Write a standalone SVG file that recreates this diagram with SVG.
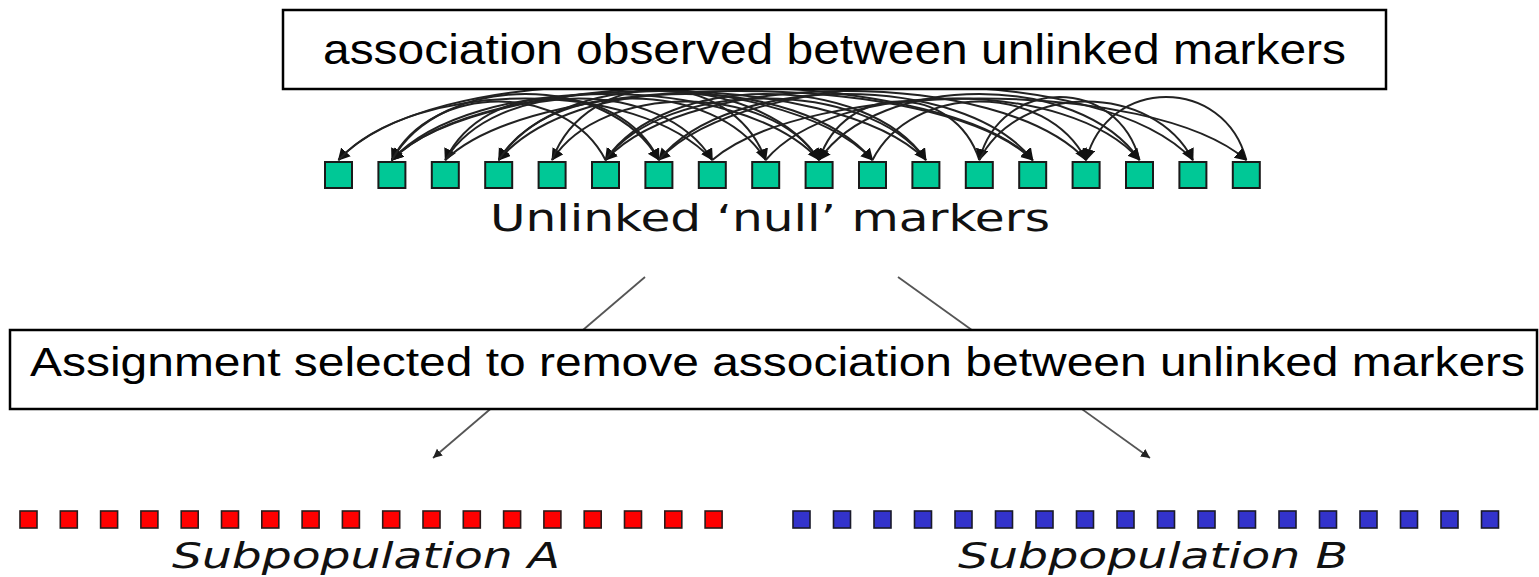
<svg xmlns="http://www.w3.org/2000/svg" width="1539" height="577" viewBox="0 0 1539 577">
  <style>
    .arc { fill: none; stroke: #222; stroke-width: 2; }
    .split { fill: none; stroke: #555; stroke-width: 1.8; }
    .box { fill: #fff; stroke: #000; stroke-width: 2.5; }
    .boxtext { font-family: "Liberation Sans", Arial, sans-serif; fill: #000; }
    .label { font-family: "DejaVu Sans", Verdana, sans-serif; fill: #111; }
    .g { fill: #00c896; stroke: #1a1a1a; stroke-width: 2; }
    .r { fill: #ff0000; stroke: #2a1a1a; stroke-width: 1.6; }
    .b { fill: #3333cc; stroke: #1a1a2a; stroke-width: 1.6; }
  </style>
  <defs>
    <marker id="head" markerUnits="userSpaceOnUse" markerWidth="14" markerHeight="14" refX="11" refY="6.5" orient="auto">
      <path d="M0,0 L12,6.5 L0,13 z" fill="#111"/>
    </marker>
    <marker id="headSmall" markerUnits="userSpaceOnUse" markerWidth="10" markerHeight="10" refX="9" refY="4.5" orient="auto">
      <path d="M0,0 L9,4.5 L0,9 z" fill="#222"/>
    </marker>
  </defs>

  <rect width="1539" height="577" fill="#fff"/>

  <!-- connectors: association arcs between markers, and the split arrows -->
  <g id="connectors">
    <g id="association-arcs" marker-end="url(#head)">
      <path class="arc" d="M712.3,160 C637.3,78 413.5,78 338.5,160"/>
      <path class="arc" d="M605.5,160 C565.5,82 431.9,82 391.9,160"/>
      <path class="arc" d="M819.1,160 C739.1,72 471.9,72 391.9,160"/>
      <path class="arc" d="M925.9,160 C835.9,68 481.9,68 391.9,160"/>
      <path class="arc" d="M1032.7,160 C937.7,62 486.9,62 391.9,160"/>
      <path class="arc" d="M658.9,160 C618.9,78 485.3,78 445.3,160"/>
      <path class="arc" d="M765.7,160 C715.7,78 548.7,78 498.7,160"/>
      <path class="arc" d="M872.5,160 C797.5,72 573.7,72 498.7,160"/>
      <path class="arc" d="M819.1,160 C769.1,82 602.1,82 552.1,160"/>
      <path class="arc" d="M925.9,160 C865.9,78 665.5,78 605.5,160"/>
      <path class="arc" d="M1086.1,160 C1001.1,68 690.5,68 605.5,160"/>
      <path class="arc" d="M391.9,160 C441.9,72 608.9,72 658.9,160"/>
      <path class="arc" d="M1192.9,160 C1102.9,62 748.9,62 658.9,160"/>
      <path class="arc" d="M445.3,160 C495.3,78 662.3,78 712.3,160"/>
      <path class="arc" d="M552.1,160 C587.1,66 730.7,66 765.7,160"/>
      <path class="arc" d="M979.3,160 C954.3,82 844.1,82 819.1,160"/>
      <path class="arc" d="M1139.5,160 C1079.5,72 879.1,72 819.1,160"/>
      <path class="arc" d="M498.7,160 C558.7,68 759.1,68 819.1,160"/>
      <path class="arc" d="M338.5,160 C428.5,62 782.5,62 872.5,160"/>
      <path class="arc" d="M605.5,160 C665.5,72 865.9,72 925.9,160"/>
      <path class="arc" d="M1139.5,160 C1117.5,76 1001.3,76 979.3,160"/>
      <path class="arc" d="M658.9,160 C728.9,72 962.7,72 1032.7,160"/>
      <path class="arc" d="M445.3,160 C540.3,68 937.7,68 1032.7,160"/>
      <path class="arc" d="M1246.3,160 C1224.3,76 1108.1,76 1086.1,160"/>
      <path class="arc" d="M872.5,160 C912.5,82 1046.1,82 1086.1,160"/>
      <path class="arc" d="M765.7,160 C835.7,78 1069.5,78 1139.5,160"/>
      <path class="arc" d="M979.3,160 C1019.3,82 1152.9,82 1192.9,160"/>
      <path class="arc" d="M712.3,160 C807.3,78 1151.3,78 1246.3,160"/>
    </g>
    <g id="split-arrows">
      <path class="split" d="M645,277 L433,458" marker-end="url(#headSmall)"/>
      <path class="split" d="M898,277 L1150,458" marker-end="url(#headSmall)"/>
    </g>
  </g>

  <g id="observed-box">
    <rect class="box" x="283" y="10" width="1103" height="79"/>
    <text class="boxtext" x="323" y="64" font-size="42" textLength="1023" lengthAdjust="spacingAndGlyphs">association observed between unlinked markers</text>
  </g>

  <g id="null-markers">
    <rect class="g" x="325" y="162" width="27" height="26"/>
    <rect class="g" x="378.4" y="162" width="27" height="26"/>
    <rect class="g" x="431.8" y="162" width="27" height="26"/>
    <rect class="g" x="485.2" y="162" width="27" height="26"/>
    <rect class="g" x="538.6" y="162" width="27" height="26"/>
    <rect class="g" x="592" y="162" width="27" height="26"/>
    <rect class="g" x="645.4" y="162" width="27" height="26"/>
    <rect class="g" x="698.8" y="162" width="27" height="26"/>
    <rect class="g" x="752.2" y="162" width="27" height="26"/>
    <rect class="g" x="805.6" y="162" width="27" height="26"/>
    <rect class="g" x="859" y="162" width="27" height="26"/>
    <rect class="g" x="912.4" y="162" width="27" height="26"/>
    <rect class="g" x="965.8" y="162" width="27" height="26"/>
    <rect class="g" x="1019.2" y="162" width="27" height="26"/>
    <rect class="g" x="1072.6" y="162" width="27" height="26"/>
    <rect class="g" x="1126" y="162" width="27" height="26"/>
    <rect class="g" x="1179.4" y="162" width="27" height="26"/>
    <rect class="g" x="1232.8" y="162" width="27" height="26"/>
    <text class="label" x="490" y="231" font-size="38" textLength="560" lengthAdjust="spacingAndGlyphs">Unlinked ‘null’ markers</text>
  </g>

  <g id="assignment-box">
    <rect class="box" x="10" y="330" width="1527" height="79"/>
    <text class="boxtext" x="30" y="376" font-size="40" textLength="1495" lengthAdjust="spacingAndGlyphs">Assignment selected to remove association between unlinked markers</text>
  </g>

  <g id="subpopulation-a">
    <rect class="r" x="20" y="511" width="17" height="17"/>
    <rect class="r" x="60.3" y="511" width="17" height="17"/>
    <rect class="r" x="100.6" y="511" width="17" height="17"/>
    <rect class="r" x="140.9" y="511" width="17" height="17"/>
    <rect class="r" x="181.2" y="511" width="17" height="17"/>
    <rect class="r" x="221.5" y="511" width="17" height="17"/>
    <rect class="r" x="261.8" y="511" width="17" height="17"/>
    <rect class="r" x="302.1" y="511" width="17" height="17"/>
    <rect class="r" x="342.4" y="511" width="17" height="17"/>
    <rect class="r" x="382.7" y="511" width="17" height="17"/>
    <rect class="r" x="423" y="511" width="17" height="17"/>
    <rect class="r" x="463.3" y="511" width="17" height="17"/>
    <rect class="r" x="503.6" y="511" width="17" height="17"/>
    <rect class="r" x="543.9" y="511" width="17" height="17"/>
    <rect class="r" x="584.2" y="511" width="17" height="17"/>
    <rect class="r" x="624.5" y="511" width="17" height="17"/>
    <rect class="r" x="664.8" y="511" width="17" height="17"/>
    <rect class="r" x="705.1" y="511" width="17" height="17"/>
    <text class="label" x="172" y="568" font-size="36" font-style="italic" textLength="388" lengthAdjust="spacingAndGlyphs">Subpopulation A</text>
  </g>

  <g id="subpopulation-b">
    <rect class="b" x="793" y="511" width="17" height="17"/>
    <rect class="b" x="833.5" y="511" width="17" height="17"/>
    <rect class="b" x="874" y="511" width="17" height="17"/>
    <rect class="b" x="914.5" y="511" width="17" height="17"/>
    <rect class="b" x="955" y="511" width="17" height="17"/>
    <rect class="b" x="995.5" y="511" width="17" height="17"/>
    <rect class="b" x="1036" y="511" width="17" height="17"/>
    <rect class="b" x="1076.5" y="511" width="17" height="17"/>
    <rect class="b" x="1117" y="511" width="17" height="17"/>
    <rect class="b" x="1157.5" y="511" width="17" height="17"/>
    <rect class="b" x="1198" y="511" width="17" height="17"/>
    <rect class="b" x="1238.5" y="511" width="17" height="17"/>
    <rect class="b" x="1279" y="511" width="17" height="17"/>
    <rect class="b" x="1319.5" y="511" width="17" height="17"/>
    <rect class="b" x="1360" y="511" width="17" height="17"/>
    <rect class="b" x="1400.5" y="511" width="17" height="17"/>
    <rect class="b" x="1441" y="511" width="17" height="17"/>
    <rect class="b" x="1481.5" y="511" width="17" height="17"/>
    <text class="label" x="958" y="568" font-size="36" font-style="italic" textLength="390" lengthAdjust="spacingAndGlyphs">Subpopulation B</text>
  </g>
</svg>
